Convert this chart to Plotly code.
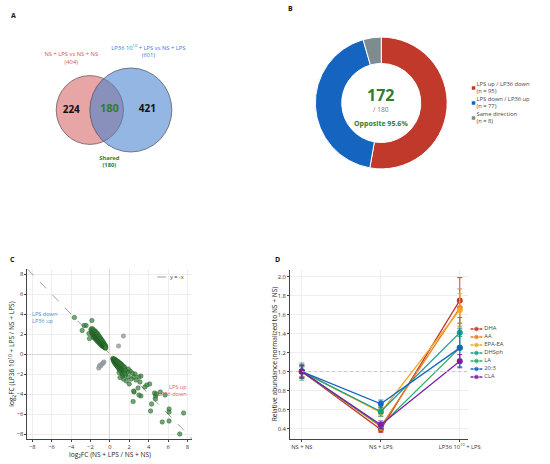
import plotly.graph_objects as go

W, H = 550, 464
def fx(p): return p / W
def fy(p): return 1 - p / H

FONT = "Open Sans"

# ---------------- Panel A data (Venn) ----------------
venn_set_labels = ["NS + LPS vs NS + NS", "LP36 10<sup>10</sup> + LPS vs NS + LPS"]
venn_set_totals = [404, 601]
venn_region_counts = [224, 180, 421]
venn_shared_label = "Shared"

# ---------------- Panel B data (donut) ----------------
donut_labels = ["LPS up / LP36 down", "LPS down / LP36 up", "Same direction"]
donut_values = [95, 77, 8]
donut_colors = ["#C0392B", "#1565C0", "#7F8C8D"]
donut_total = 180
donut_opposite = 172

# ---------------- Panel C data (scatter) ----------------
ul_x = [-3.65, -1.85, -2.45, -2.65, -2.85, -2.10, -2.15,
        -1.95, -1.90, -1.85, -1.80, -1.78, -1.75, -1.72, -1.70, -1.68, -1.65,
        -1.62, -1.60, -1.58, -1.55, -1.52, -1.50, -1.48, -1.46, -1.45, -1.43,
        -1.40, -1.38, -1.36, -1.35, -1.33, -1.30, -1.28, -1.27, -1.25, -1.23,
        -1.20, -1.18, -1.17, -1.15, -1.13, -1.10, -1.08, -1.07, -1.05, -1.03,
        -1.00, -0.98, -0.97, -0.95, -0.93, -0.90, -0.88, -0.87, -0.85, -0.83,
        -0.80, -0.78, -0.77, -0.75, -0.73, -0.70, -0.68, -0.66, -0.64, -0.62,
        -0.60, -0.58, -0.56, -0.54, -0.52, -0.50, -0.48, -0.46, -0.44, -0.42]
ul_y = [3.65, 3.35, 2.85, 2.85, 2.35, 1.55, 2.05,
        2.45, 2.20, 2.55, 2.05, 2.35, 1.85, 2.15, 2.45, 1.70, 2.00,
        2.25, 1.60, 1.90, 2.10, 1.75, 2.30, 1.50, 1.95, 1.65, 2.15,
        1.80, 1.40, 2.00, 1.60, 1.85, 1.30, 1.70, 2.05, 1.50, 1.90,
        1.20, 1.65, 1.40, 1.80, 1.55, 1.10, 1.45, 1.75, 1.30, 1.60,
        1.00, 1.40, 1.20, 1.55, 0.95, 1.30, 1.10, 1.45, 0.85, 1.20,
        1.00, 1.35, 0.80, 1.10, 0.90, 1.20, 0.75, 1.00, 0.85, 1.10,
        0.70, 0.95, 0.80, 0.65, 0.90, 0.75, 0.60, 0.85, 0.70, 0.62]
lr_x = [7.2, 7.6, 6.1, 6.1, 6.1, 5.4, 5.7, 5.2, 4.2, 4.3,
        4.7, 4.7, 4.6, 4.8, 4.1, 3.8, 3.6, 3.2, 3.0, 2.4,
        2.5, 2.45, 3.1, 2.9, 3.0, 3.2, 2.6, 2.7, 2.2, 2.0,
        1.9, 1.7, 1.4, 2.3, 2.1, 1.8, 1.6, 1.3, 2.5, 1.9,
        0.30, 0.35, 0.38, 0.40, 0.42, 0.45, 0.48, 0.50, 0.52, 0.55,
        0.57, 0.60, 0.62, 0.64, 0.66, 0.68, 0.70, 0.72, 0.74, 0.76,
        0.78, 0.80, 0.82, 0.84, 0.86, 0.88, 0.90, 0.92, 0.94, 0.96,
        0.98, 1.00, 1.03, 1.05, 1.08, 1.10, 1.13, 1.15, 1.18, 1.20,
        1.23, 1.25, 1.28, 1.30, 1.33, 1.36, 1.40, 1.43, 1.46, 1.50,
        1.53, 1.56, 1.60, 1.05, 0.95]
lr_y = [-8.0, -5.9, -6.7, -5.5, -5.8, -6.8, -4.1, -3.8, -5.7, -5.0,
        -4.2, -4.5, -3.9, -4.0, -3.0, -3.1, -3.3, -4.2, -4.1, -4.75,
        -3.8, -3.7, -2.8, -3.4, -2.3, -2.2, -2.0, -2.6, -2.5, -3.0,
        -2.3, -2.7, -2.5, -1.9, -1.7, -1.8, -2.1, -2.2, -2.3, -1.5,
        -0.45, -0.60, -0.50, -0.75, -0.55, -0.65, -0.85, -0.50, -0.70, -0.95,
        -0.60, -0.80, -1.05, -0.65, -0.90, -0.75, -1.15, -0.70, -0.95, -0.80,
        -1.25, -0.85, -1.05, -0.75, -1.35, -0.95, -1.15, -0.85, -1.50, -1.05,
        -1.25, -0.90, -1.60, -1.10, -1.35, -0.95, -1.75, -1.20, -1.45, -1.05,
        -1.90, -1.30, -1.55, -1.15, -2.00, -1.40, -1.65, -1.25, -1.80, -1.50,
        -1.35, -1.95, -1.60, -2.35, -1.85]
same_x = [1.4, 0.9, -1.15, -1.05, -0.95, -0.80, -0.70, -0.60]
same_y = [1.8, 0.8, -1.40, -1.15, -1.20, -1.00, -0.90, -0.80]
ref_line_x = [-8.5, 8.5]

# ---------------- Panel D data (lines) ----------------
conditions = ["NS + NS", "NS + LPS", "LP36 10<sup>10</sup> + LPS"]
lipids = ["DHA", "AA", "EPA-EA", "DHSph", "LA", "20:3", "CLA"]
lipid_colors = ["#C0392B", "#E67E22", "#F5A623", "#16A085", "#27AE60", "#1565C0", "#7B1FA2"]
means = {
    "DHA":    [1.00, 0.39, 1.75],
    "AA":     [1.00, 0.42, 1.67],
    "EPA-EA": [1.00, 0.57, 1.65],
    "DHSph":  [1.00, 0.58, 1.41],
    "LA":     [1.00, 0.43, 1.25],
    "20:3":   [1.00, 0.66, 1.25],
    "CLA":    [1.00, 0.44, 1.11],
}
errors = {
    "DHA":    [0.05, 0.03, 0.24],
    "AA":     [0.06, 0.04, 0.20],
    "EPA-EA": [0.05, 0.04, 0.17],
    "DHSph":  [0.07, 0.05, 0.16],
    "LA":     [0.09, 0.03, 0.12],
    "20:3":   [0.06, 0.04, 0.20],
    "CLA":    [0.07, 0.04, 0.07],
}

fig = go.Figure()

# ---------- Panel C ----------
fig.add_trace(go.Scatter(x=ref_line_x, y=[-v for v in ref_line_x], mode="lines",
                         line=dict(color="#888888", width=0.8, dash="dash"),
                         showlegend=False, hoverinfo="skip", xaxis="x", yaxis="y"))
fig.add_trace(go.Scatter(x=same_x, y=same_y, mode="markers",
                         marker=dict(size=4.5, color="rgba(150,160,162,0.85)",
                                     line=dict(color="#7f8a8c", width=0.4)),
                         showlegend=False, xaxis="x", yaxis="y"))
fig.add_trace(go.Scatter(x=ul_x + lr_x, y=ul_y + lr_y, mode="markers",
                         marker=dict(size=4.5, color="rgba(56,135,60,0.72)",
                                     line=dict(color="#1B4D1E", width=0.4)),
                         showlegend=False, xaxis="x", yaxis="y"))

# ---------- Panel D ----------
for name, col in zip(lipids, lipid_colors):
    fig.add_trace(go.Scatter(
        x=conditions, y=means[name], mode="lines+markers", name=name,
        line=dict(color=col, width=1.3),
        marker=dict(size=6, color=col),
        error_y=dict(type="data", array=errors[name], color=col, thickness=0.9, width=2.5),
        showlegend=False, xaxis="x2", yaxis="y2"))

# ---------- Panel A (Venn) ----------
k = 42 / (venn_set_totals[1] ** 0.5)
r_red = k * venn_set_totals[0] ** 0.5
r_blue = k * venn_set_totals[1] ** 0.5
c_red = (92, 110)
c_blue = (134, 110)
fig.add_shape(type="circle", xref="x3", yref="y3",
              x0=c_red[0] - r_red, x1=c_red[0] + r_red, y0=c_red[1] - r_red, y1=c_red[1] + r_red,
              fillcolor="rgba(214,100,100,0.58)", line=dict(color="#5a4a4a", width=0.7), layer="below")
fig.add_shape(type="circle", xref="x3", yref="y3",
              x0=c_blue[0] - r_blue, x1=c_blue[0] + r_blue, y0=c_blue[1] - r_blue, y1=c_blue[1] + r_blue,
              fillcolor="rgba(70,130,205,0.58)", line=dict(color="#4a4a5a", width=0.7), layer="below")
fig.add_trace(go.Scatter(x=[73, 112, 151], y=[110, 109, 109], mode="text",
                         text=[f"<b>{v}</b>" for v in venn_region_counts],
                         textfont=dict(size=[10, 11, 10], color=["#111111", "#2E7D32", "#111111"], family=FONT),
                         showlegend=False, hoverinfo="skip", xaxis="x3", yaxis="y3"))
fig.add_trace(go.Scatter(x=[73, 152], y=[58.5, 52], mode="text",
                         text=[f"{lab}<br>({n})" for lab, n in zip(venn_set_labels, venn_set_totals)],
                         textfont=dict(size=5.8, color=["#D9534F", "#3A7BD5"], family=FONT),
                         showlegend=False, hoverinfo="skip", xaxis="x3", yaxis="y3"))
fig.add_trace(go.Scatter(x=[112], y=[162], mode="text",
                         text=[f"<b>{venn_shared_label}<br>({venn_region_counts[1]})</b>"],
                         textfont=dict(size=5.8, color="#2E7D32", family=FONT),
                         showlegend=False, hoverinfo="skip", xaxis="x3", yaxis="y3"))

# ---------- Panel B (donut) ----------
fig.add_trace(go.Pie(values=donut_values, labels=donut_labels, hole=0.6, sort=False,
                     direction="clockwise", rotation=0, textinfo="none",
                     marker=dict(colors=donut_colors, line=dict(color="white", width=1)),
                     domain=dict(x=[fx(323), fx(458)], y=[fy(170), fy(36)]),
                     showlegend=False))

# donut legend (manual)
leg_idx = list(range(len(donut_labels)))
fig.add_trace(go.Scatter(x=[5] * len(leg_idx), y=leg_idx, mode="markers",
                         marker=dict(symbol="square", size=3.5, color=donut_colors),
                         showlegend=False, hoverinfo="skip", xaxis="x4", yaxis="y4"))
fig.add_trace(go.Scatter(x=[8] * len(leg_idx), y=leg_idx, mode="text",
                         text=[f"{lab}<br>(n = {v})" for lab, v in zip(donut_labels, donut_values)],
                         textposition="middle right",
                         textfont=dict(size=5.8, color="#444444", family=FONT),
                         showlegend=False, hoverinfo="skip", xaxis="x4", yaxis="y4"))

# line chart legend (manual)
for i, (name, col) in enumerate(zip(lipids, lipid_colors)):
    fig.add_trace(go.Scatter(x=[2, 8, 14], y=[i, i, i], mode="lines+markers",
                             line=dict(color=col, width=1.3),
                             marker=dict(size=[0, 5.5, 0], color=col),
                             showlegend=False, hoverinfo="skip", xaxis="x5", yaxis="y5"))
fig.add_trace(go.Scatter(x=[16] * len(lipids), y=list(range(len(lipids))), mode="text",
                         text=lipids, textposition="middle right",
                         textfont=dict(size=5.8, color="#444444", family=FONT),
                         showlegend=False, hoverinfo="skip", xaxis="x5", yaxis="y5"))

# ---------- axes ----------
tickfont = dict(size=5.8, color="#333333", family=FONT)
titlefont = dict(size=6.6, color="#222222", family=FONT)
grid = "#EEEEEE"
fig.update_layout(
    width=W, height=H, margin=dict(l=0, r=0, t=0, b=0),
    paper_bgcolor="white", plot_bgcolor="white",
    font=dict(family=FONT),
    xaxis=dict(domain=[fx(28), fx(197)], range=[-8.5, 8.5], dtick=2, tick0=0,
               showgrid=True, gridcolor=grid, gridwidth=0.6,
               zeroline=True, zerolinecolor="#D8D8D8", zerolinewidth=1.2,
               showline=True, linecolor="#444444", linewidth=0.8,
               ticks="outside", ticklen=2, tickcolor="#444444", tickfont=tickfont,
               anchor="y"),
    yaxis=dict(domain=[fy(439), fy(269)], range=[-8.5, 8.5], dtick=2, tick0=0,
               showgrid=True, gridcolor=grid, gridwidth=0.6,
               zeroline=True, zerolinecolor="#D8D8D8", zerolinewidth=1.2,
               showline=True, linecolor="#444444", linewidth=0.8,
               ticks="outside", ticklen=2, tickcolor="#444444", tickfont=tickfont,
               anchor="x"),
    xaxis2=dict(domain=[fx(297), fx(479)], range=[-0.15, 2.1], type="category",
                showgrid=True, gridcolor=grid, gridwidth=0.6,
                showline=True, linecolor="#444444", linewidth=0.8,
                ticks="outside", ticklen=2, tickcolor="#444444", tickfont=tickfont,
                anchor="y2"),
    yaxis2=dict(domain=[fy(439), fy(270)], range=[0.29, 2.07], dtick=0.2, tick0=0,
                tickformat=".1f", showgrid=True, gridcolor=grid, gridwidth=0.6,
                zeroline=False, showline=True, linecolor="#444444", linewidth=0.8,
                ticks="outside", ticklen=2, tickcolor="#444444", tickfont=tickfont,
                anchor="x2"),
    xaxis3=dict(domain=[fx(30), fx(210)], range=[30, 210], visible=False, anchor="y3"),
    yaxis3=dict(domain=[fy(180), fy(40)], range=[180, 40], visible=False, anchor="x3"),
    xaxis4=dict(domain=[fx(480), fx(548)], range=[0, 68], visible=False, anchor="y4"),
    yaxis4=dict(domain=[fy(126), fy(80)], range=[2.533, -0.533], visible=False, anchor="x4"),
    xaxis5=dict(domain=[fx(480), fx(548)], range=[0, 68], visible=False, anchor="y5"),
    yaxis5=dict(domain=[fy(381), fy(325)], range=[6.5, -0.5], visible=False, anchor="x5"),
)

# y = 1 reference line in D
fig.add_shape(type="line", xref="x2 domain", yref="y2", x0=0, x1=1, y0=1.0, y1=1.0,
              line=dict(color="#BBBBBB", width=0.8, dash="dot"))

# legend for C
fig.add_shape(type="line", xref="paper", yref="paper", x0=fx(161), x1=fx(170), y0=fy(277), y1=fy(277),
              line=dict(color="#888888", width=0.8, dash="dash"))

annotations = [
    dict(x=fx(112.5), y=fy(454), text="log<sub>2</sub>FC (NS + LPS / NS + NS)",
         font=titlefont, xanchor="center", yanchor="middle"),
    dict(x=fx(12), y=fy(354), text="log<sub>2</sub>FC (LP36 10<sup>10</sup> + LPS / NS + LPS)",
         font=titlefont, xanchor="center", yanchor="middle", textangle=-90),
    dict(x=fx(281), y=fy(354), text="Relative abundance (normalized to NS + NS)",
         font=titlefont, xanchor="center", yanchor="middle", textangle=-90),
    dict(x=fx(172), y=fy(277), text="y = -x", font=dict(size=5.6, color="#444444", family=FONT),
         xanchor="left", yanchor="middle"),
    dict(x=fx(31), y=fy(317.5), text="LPS down<br>LP36 up", align="left",
         font=dict(size=5.6, color="#4A90D9", family=FONT), xanchor="left", yanchor="middle"),
    dict(x=fx(194), y=fy(390), text="LPS up<br>LP36 down", align="right",
         font=dict(size=5.6, color="#E06666", family=FONT), xanchor="right", yanchor="middle"),
    dict(x=fx(390), y=fy(95.5), text=f"<b>{donut_opposite}</b>",
         font=dict(size=16, color="#2E7D32", family=FONT), xanchor="center", yanchor="middle"),
    dict(x=fx(390), y=fy(109.5), text=f"/ {donut_total}",
         font=dict(size=6.6, color="#777777", family=FONT), xanchor="center", yanchor="middle"),
    dict(x=fx(390), y=fy(123.5), text=f"<b>Opposite {donut_opposite / donut_total * 100:.1f}%</b>",
         font=dict(size=7, color="#2E7D32", family=FONT), xanchor="center", yanchor="middle"),
    dict(x=fx(14), y=fy(15), text="<b>A</b>", font=dict(size=7, color="#111111", family=FONT),
         xanchor="center", yanchor="middle"),
    dict(x=fx(298), y=fy(9), text="<b>B</b>", font=dict(size=7, color="#111111", family=FONT),
         xanchor="center", yanchor="middle"),
    dict(x=fx(13), y=fy(259), text="<b>C</b>", font=dict(size=7, color="#111111", family=FONT),
         xanchor="center", yanchor="middle"),
    dict(x=fx(284), y=fy(259), text="<b>D</b>", font=dict(size=7, color="#111111", family=FONT),
         xanchor="center", yanchor="middle"),
]
for a in annotations:
    a.update(xref="paper", yref="paper", showarrow=False)
fig.update_layout(annotations=annotations)

fig.write_html("out.html", config={"displayModeBar": False},
               post_script="document.body.style.margin='0px';document.body.style.overflow='hidden';")
